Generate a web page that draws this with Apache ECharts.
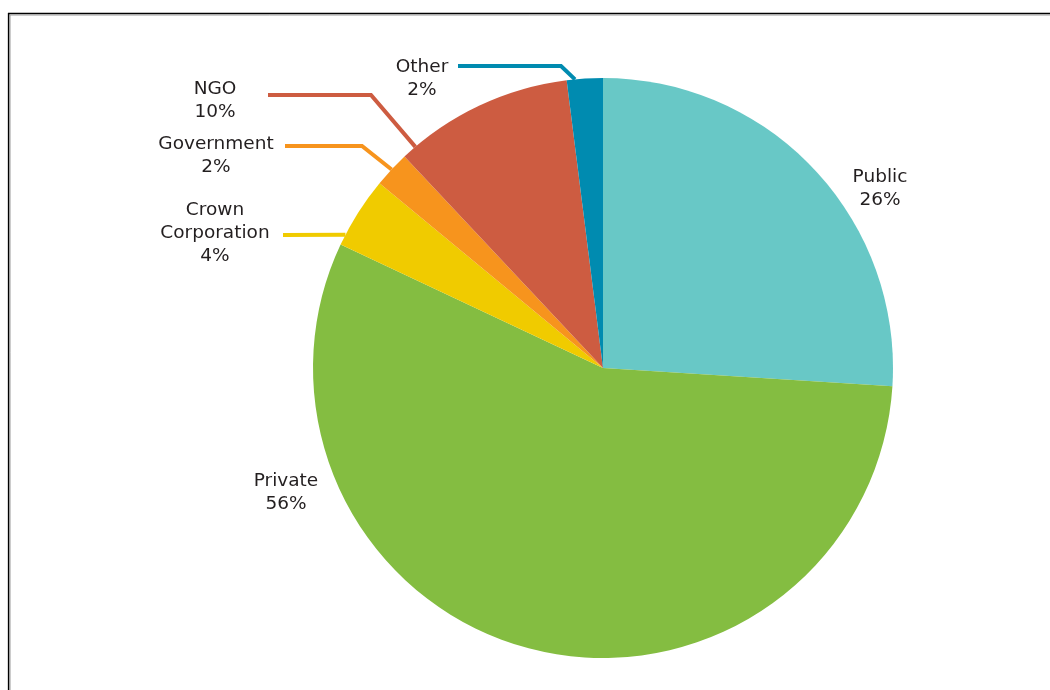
<!DOCTYPE html>
<html><head><meta charset="utf-8">
<script src="https://cdn.jsdelivr.net/npm/echarts@6/dist/echarts.min.js"></script>
<style>html,body{margin:0;padding:0;background:#fff}#c{width:1050px;height:690px}</style>
</head><body><div id="c"></div>
<script>
// ---- data ----
const categories = ['Public', 'Private', 'Crown\nCorporation', 'Government', 'NGO', 'Other'];
const shares = [26, 56, 4, 2, 10, 2];
// ---- styles / layout ----
const colors = ['#68C8C6', '#84BD41', '#F0CB00', '#F7941D', '#CD5C41', '#008BB0'];
const PIE_CENTER = [603, 368];
const PIE_RADIUS = 290;
// text block centre for each label
const labelCenter = [[880, 188.5], [286, 493], [215, 233.5], [216, 155.5], [215, 101], [422, 78.5]];
// where the leader line leaves the label (null = no leader)
const leaderStart = [null, null, [283, 235], [285, 146], [268, 95], [458, 66]];
// horizontal run before the bend
const leaderRun = [0, 0, 0, 77, 103, 103];
// where along the slice's arc the leader points (0 = start, 1 = end)
const leaderFrac = [0, 0, 0.15, 0.5, 0.08, 0.23];

const total = shares.reduce((a, b) => a + b, 0);
const sliceStart = [];
shares.reduce((acc, v, i) => { sliceStart[i] = acc; return acc + v; }, 0);

function arcPoint(i) {
  const f = (sliceStart[i] + shares[i] * leaderFrac[i]) / total;
  const a = f * 2 * Math.PI; // clockwise from 12 o'clock
  return [PIE_CENTER[0] + PIE_RADIUS * Math.sin(a), PIE_CENTER[1] - PIE_RADIUS * Math.cos(a)];
}

const data = categories.map((name, i) => ({
  name: name,
  value: shares[i],
  itemStyle: { color: colors[i] },
  labelLine: { show: !!leaderStart[i] }
}));

const chart = echarts.init(document.getElementById('c'), null, { renderer: 'canvas' });
chart.setOption({
  animation: false,
  backgroundColor: '#fff',
  graphic: [
    { type: 'line', shape: { x1: 8, y1: 13.6, x2: 1050, y2: 13.6 }, style: { stroke: '#000', lineWidth: 1.5 } },
    { type: 'line', shape: { x1: 9.5, y1: 15, x2: 1050, y2: 15 }, style: { stroke: '#999', lineWidth: 1 } },
    { type: 'line', shape: { x1: 8.6, y1: 13, x2: 8.6, y2: 690 }, style: { stroke: '#000', lineWidth: 1.5 } },
    { type: 'line', shape: { x1: 10, y1: 15, x2: 10, y2: 690 }, style: { stroke: '#999', lineWidth: 1 } }
  ],
  series: [{
    type: 'pie',
    center: PIE_CENTER,
    radius: PIE_RADIUS,
    startAngle: 90,
    clockwise: true,
    avoidLabelOverlap: false,
    itemStyle: { borderWidth: 0 },
    label: {
      show: true,
      position: 'outside',
      formatter: '{b}\n{c}%',
      color: '#231F20',
      fontFamily: 'DejaVu Sans',
      fontSize: 18.5,
      lineHeight: 23,
      align: 'center'
    },
    labelLine: {
      smooth: false,
      length: 10,
      length2: 10,
      lineStyle: { width: 4, cap: 'butt' }
    },
    labelLayout: function (p) {
      const i = p.dataIndex;
      const c = labelCenter[i];
      const out = { x: c[0], y: c[1], align: 'center', verticalAlign: 'middle' };
      if (leaderStart[i]) {
        const s = leaderStart[i];
        const bend = [s[0] + leaderRun[i], s[1]];
        out.labelLinePoints = [arcPoint(i), bend, s];
      }
      return out;
    },
    emphasis: { disabled: true },
    data: data
  }]
});
</script>
</body></html>
